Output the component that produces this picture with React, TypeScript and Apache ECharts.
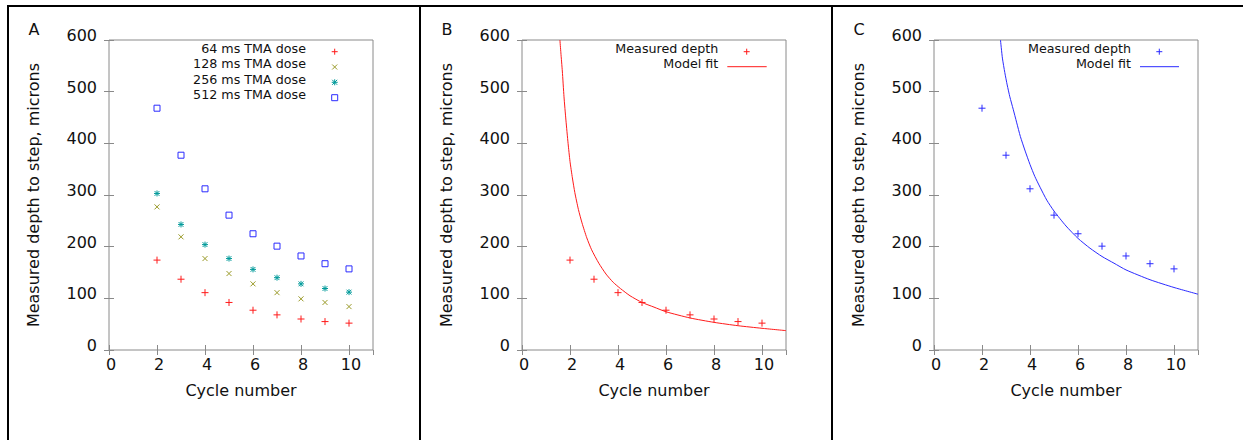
import React, { useEffect, useRef } from "react";
import * as echarts from "echarts";

const cycles = [2, 3, 4, 5, 6, 7, 8, 9, 10];
const dose64 = [174, 137, 111, 92, 77, 68, 60, 55, 52];
const dose128 = [277, 219, 177, 148, 128, 111, 99, 92, 84];
const dose256 = [303, 243, 204, 177, 156, 140, 128, 119, 112];
const dose512 = [468, 377, 312, 261, 225, 201, 182, 167, 157];

const fitBx = [1.58, 1.62, 1.68, 1.75, 1.83, 1.92, 2.0, 2.1, 2.2, 2.35, 2.5, 2.7, 2.9, 3.2, 3.5, 3.8, 4.1, 4.5, 5.0, 5.5, 6.0, 7.0, 8.0, 9.0, 10, 11];
const fitBy = [600, 575, 540, 490, 445, 400, 365, 333, 305, 272, 246, 217, 194, 168, 147, 131, 119, 105, 92, 83, 74, 62, 53.5, 47, 42, 37.5];
const fitCx = [2.77, 2.85, 2.95, 3.05, 3.16, 3.3, 3.44, 3.6, 3.8, 4.0, 4.2, 4.42, 4.7, 5.0, 5.5, 6, 6.5, 7, 7.5, 8, 9, 10, 11];
const fitCy = [600, 565, 537, 513, 490, 466, 441, 413, 385, 359, 336, 315, 290, 269, 240, 216, 197, 181, 168, 155, 136, 121, 108];

const legendA = ["64 ms TMA dose", "128 ms TMA dose", "256 ms TMA dose", "512 ms TMA dose"];
const legendFit = ["Measured depth", "Model fit"];
const panelLabels = ["A", "B", "C"];
const xName = "Cycle number";
const yName = "Measured depth to step, microns";

const FONT = '"DejaVu Sans", "Liberation Sans", sans-serif';
const RED = "#ff1a1a";
const OLIVE = "#9a9a28";
const TEAL = "#009a9a";
const BLUE = "#2b2bff";
const AXIS = "#8a8a8a";

const PLUS = "path://M0,5L10,5M5,0L5,10";
const CROSS = "path://M0,0L10,10M10,0L0,10";
const STAR = "path://M0,5L10,5M5,0L5,10M1,1L9,9M9,1L1,9";

const gridLefts = [109, 522, 934];

function pts(xs: number[], ys: number[]) {
  return xs.map((x, i) => [x, ys[i]]);
}

function txt(text: string, x: number, y: number, size: number, align: string) {
  return {
    type: "text",
    x,
    y,
    silent: true,
    style: {
      text,
      fontSize: size,
      fontFamily: FONT,
      fill: "#111",
      align,
      textAlign: align,
      verticalAlign: "middle",
      textVerticalAlign: "middle",
    },
  };
}

function hline(x1: number, y1: number, x2: number, y2: number, color: string, w = 1) {
  return {
    type: "line",
    silent: true,
    shape: { x1, y1, x2, y2 },
    style: { stroke: color, lineWidth: w },
  };
}

function plusMark(cx: number, cy: number, color: string) {
  return [hline(cx - 3, cy, cx + 3, cy, color), hline(cx, cy - 3, cx, cy + 3, color)];
}
function crossMark(cx: number, cy: number, color: string) {
  return [hline(cx - 2.5, cy - 2.5, cx + 2.5, cy + 2.5, color), hline(cx - 2.5, cy + 2.5, cx + 2.5, cy - 2.5, color)];
}
function starMark(cx: number, cy: number, color: string) {
  return [...plusMark(cx, cy, color), ...crossMark(cx, cy, color)];
}
function squareMark(cx: number, cy: number, color: string) {
  return [
    {
      type: "rect",
      silent: true,
      shape: { x: cx - 3, y: cy - 3, width: 6, height: 6 },
      style: { fill: "none", stroke: color, lineWidth: 1 },
    },
  ];
}

export default function App() {
  const ref = useRef<HTMLDivElement>(null);

  useEffect(() => {
    if (!ref.current) return;
    const chart = echarts.init(ref.current, null, { renderer: "svg" });

    const grids = gridLefts.map((l) => ({
      left: l,
      top: 40,
      width: 264,
      height: 310,
      show: true,
      borderColor: AXIS,
      borderWidth: 1,
      backgroundColor: "transparent",
    }));

    const xMain = gridLefts.map((_, i) => ({
      type: "value",
      gridIndex: i,
      position: "bottom",
      min: 0,
      max: 11,
      interval: 2,
      name: xName,
      nameLocation: "middle",
      nameGap: 32,
      nameTextStyle: { fontSize: 16, fontFamily: FONT, color: "#111" },
      axisLine: { show: false },
      axisTick: { show: true, inside: true, length: 5, lineStyle: { color: AXIS } },
      axisLabel: {
        fontSize: 16,
        fontFamily: FONT,
        color: "#111",
        margin: 6,
        padding: [0, 0, 0, 4],
        showMaxLabel: false,
        formatter: (v: number) => (v === 11 ? "" : String(v)),
      },
      splitLine: { show: false },
    }));
    const xTop = gridLefts.map((_, i) => ({
      type: "value",
      gridIndex: i,
      position: "top",
      min: 0,
      max: 11,
      interval: 2,
      axisLine: { show: false },
      axisTick: { show: true, inside: true, length: 5, lineStyle: { color: AXIS } },
      axisLabel: { show: false },
      splitLine: { show: false },
    }));
    const yMain = gridLefts.map((_, i) => ({
      type: "value",
      gridIndex: i,
      position: "left",
      min: 0,
      max: 600,
      interval: 100,
      name: yName,
      nameLocation: "middle",
      nameGap: 68,
      nameRotate: 90,
      nameTextStyle: { fontSize: 16, fontFamily: FONT, color: "#111" },
      axisLine: { show: false },
      axisTick: { show: true, inside: true, length: 5, lineStyle: { color: AXIS } },
      axisLabel: {
        fontSize: 16,
        fontFamily: FONT,
        color: "#111",
        margin: 12,
        verticalAlign: "bottom",
        lineHeight: 9,
      },
      splitLine: { show: false },
    }));
    const yRight = gridLefts.map((_, i) => ({
      type: "value",
      gridIndex: i,
      position: "right",
      min: 0,
      max: 600,
      interval: 100,
      axisLine: { show: false },
      axisTick: { show: true, inside: true, length: 5, lineStyle: { color: AXIS } },
      axisLabel: { show: false },
      splitLine: { show: false },
    }));

    const scatter = (
      name: string,
      data: number[],
      g: number,
      symbol: string,
      color: string,
      size: number
    ) => ({
      type: "scatter",
      name,
      xAxisIndex: g,
      yAxisIndex: g,
      data: pts(cycles, data),
      symbol,
      symbolSize: size,
      silent: true,
      itemStyle: { color: "rgba(0,0,0,0)", borderColor: color, borderWidth: 1, opacity: 1 },
    });

    const fitLine = (name: string, xs: number[], ys: number[], g: number, color: string) => ({
      type: "line",
      name,
      xAxisIndex: g,
      yAxisIndex: g,
      data: pts(xs, ys),
      showSymbol: false,
      symbol: "none",
      smooth: 0.2,
      clip: true,
      silent: true,
      lineStyle: { color, width: 1 },
    });

    const graphics: any[] = [
      hline(7, 6, 1243, 6, "#000", 2),
      hline(8, 5, 8, 440, "#000", 2),
      hline(420, 5, 420, 440, "#000", 2),
      hline(832, 5, 832, 440, "#000", 2),
      txt(panelLabels[0], 34, 29, 16, "center"),
      txt(panelLabels[1], 447, 29, 16, "center"),
      txt(panelLabels[2], 859, 29, 16, "center"),
    ];

    const legYs = [48.5, 63.8, 79.1, 94.4];
    legendA.forEach((t, i) => graphics.push(txt(t, 306, legYs[i], 12.7, "right")));
    graphics.push(...plusMark(334.7, 51.7, RED));
    graphics.push(...crossMark(334.7, 67, OLIVE));
    graphics.push(...starMark(334.7, 82.3, TEAL));
    graphics.push(...squareMark(334.7, 97.7, BLUE));

    // Panel B legend
    graphics.push(txt(legendFit[0], 718.3, 48.5, 12.7, "right"));
    graphics.push(txt(legendFit[1], 718.3, 63.8, 12.7, "right"));
    graphics.push(...plusMark(746.7, 51.7, RED));
    graphics.push(hline(727.3, 66.7, 766.7, 66.7, RED, 1));

    // Panel C legend
    graphics.push(txt(legendFit[0], 1131, 48.5, 12.7, "right"));
    graphics.push(txt(legendFit[1], 1131, 63.8, 12.7, "right"));
    graphics.push(...plusMark(1159.3, 51.7, BLUE));
    graphics.push(hline(1140, 66.7, 1179, 66.7, BLUE, 1));

    chart.setOption({
      animation: false,
      backgroundColor: "#ffffff",
      textStyle: { fontFamily: FONT },
      grid: grids,
      xAxis: [...xMain, ...xTop],
      yAxis: [...yMain, ...yRight],
      series: [
        scatter(legendA[0], dose64, 0, PLUS, RED, 7),
        scatter(legendA[1], dose128, 0, CROSS, OLIVE, 5),
        scatter(legendA[2], dose256, 0, STAR, TEAL, 6),
        scatter(legendA[3], dose512, 0, "rect", BLUE, 6),
        scatter(legendFit[0], dose64, 1, PLUS, RED, 7),
        fitLine(legendFit[1], fitBx, fitBy, 1, RED),
        scatter(legendFit[0], dose512, 2, PLUS, BLUE, 7),
        fitLine(legendFit[1], fitCx, fitCy, 2, BLUE),
      ],
      graphic: graphics,
    });

    return () => chart.dispose();
  }, []);

  return (
    <div
      ref={ref}
      style={{ position: "fixed", left: 0, top: 0, width: 1243, height: 440, background: "#fff" }}
    />
  );
}
